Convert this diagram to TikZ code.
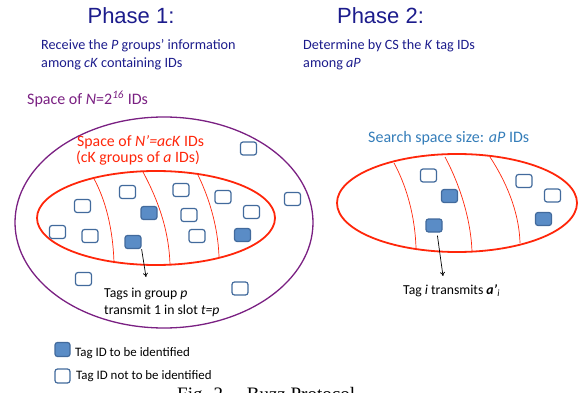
\documentclass[tikz,border=0pt]{standalone}
\usepackage{fontspec}
\setmainfont{Carlito}
\newfontfamily\phasefont{Liberation Sans}
\newfontfamily\capfont{Liberation Serif}
\usetikzlibrary{arrows.meta}
\definecolor{phaseblue}{RGB}{28,28,140}
\definecolor{idpurple}{RGB}{122,32,130}
\definecolor{idred}{RGB}{255,38,10}
\definecolor{searchblue}{RGB}{52,125,185}
\definecolor{tagfill}{RGB}{90,140,198}
\definecolor{tagline}{RGB}{66,106,156}
\newcommand{\fsz}[1]{\fontsize{#1}{#1}\selectfont}

\begin{document}
\begin{tikzpicture}[x=1pt, y=-1pt,
  tag/.style={draw=tagline, line width=1.2pt, rounded corners=2.5pt, minimum width=16pt, minimum height=13pt, inner sep=0pt},
  tagon/.style={tag, fill=tagfill},
  tagoff/.style={tag, fill=white},
  lbl/.style={anchor=base west, inner sep=0pt},
  divider/.style={idred, line width=.7pt},
  >={To[length=4pt,width=5pt]}]
\useasboundingbox (0,0) rectangle (584,393);
% headings
\node[anchor=base, inner sep=0pt, phaseblue] (ph1) at (131,23.5) {\phasefont\fsz{22}Phase 1:};
\node[anchor=base, inner sep=0pt, phaseblue] (ph2) at (380.5,23.5) {\phasefont\fsz{22}Phase 2:};
\node[lbl, phaseblue] (s1a) at (41,50) {\fsz{14.2}Receive the \textit{P} groups’ information};
\node[lbl, phaseblue] (s1b) at (41,68) {\fsz{14.2}among \textit{cK} containing IDs};
\node[lbl, phaseblue] (s2a) at (303,50) {\fsz{14.2}Determine by CS the \textit{K} tag IDs};
\node[lbl, phaseblue] (s2b) at (303,68) {\fsz{14.2}among \textit{aP}};
% phase 1
\draw[idpurple, line width=1.3pt] (164,222.5) ellipse (149 and 105.5);
\draw[idred, line width=1.8pt] (156,218) ellipse (119 and 47);
\draw[divider] (93,177) .. controls (106,200) and (113,230) .. (114,263);
\draw[divider] (143,172) .. controls (158,200) and (169,230) .. (170,265);
\draw[divider] (197,173) .. controls (208,195) and (218,225) .. (219,257);
\node[lbl, idpurple] (allid) at (27,105) {\fsz{16}Space of \textit{N}=2\textsuperscript{\textit{16}} IDs};
\node[lbl, idred] (cand1) at (77,146.5) {\fsz{15.8}Space of \textit{N’=acK} IDs};
\node[lbl, idred] (cand2) at (76,162.5) {\fsz{15.8}(cK groups of \textit{a} IDs)};
\node[tagoff] (o1) at (248.5,148.5) {};
\node[tagoff] (o2) at (292.5,199) {};
\node[tagoff] (o3) at (83.5,279) {};
\node[tagoff] (o4) at (240,288.5) {};
\node[tagoff] (a1) at (82.5,206) {};
\node[tagoff] (a2) at (127.5,192) {};
\node[tagoff] (a3) at (57.5,232) {};
\node[tagoff] (a4) at (90,236) {};
\node[tagoff] (a5) at (181,190) {};
\node[tagoff] (a6) at (223,197) {};
\node[tagoff] (a7) at (189,215) {};
\node[tagoff] (a8) at (251.5,212) {};
\node[tagoff] (a9) at (197,236) {};
\node[tagon] (b1) at (149,213) {};
\node[tagon] (b2) at (133,242) {};
\node[tagon] (b3) at (242.5,235) {};
\node[lbl] (grp1) at (104,297) {\fsz{13.7}Tags in group \textit{p}};
\node[lbl] (grp2) at (104,314) {\fsz{13.7}transmit 1 in slot \textit{t=p}};
\coordinate (grpin) at (146,277);
\draw[->, line width=.7pt] (b2.south east) -- (grpin);
% phase 2
\draw[idred, line width=1.8pt] (457,203) ellipse (120 and 49);
\draw[divider] (394,163) .. controls (406,185) and (415,215) .. (416,248);
\draw[divider] (445,157) .. controls (460,185) and (471,220) .. (472,252);
\draw[divider] (490,157) .. controls (505,180) and (519,210) .. (520,243);
\node[lbl, searchblue] (srch) at (368,142.5) {\fsz{16}Search space size: \textit{aP} IDs};
\node[tagoff] (c1) at (428.5,175.5) {};
\node[tagoff] (c2) at (524,181) {};
\node[tagoff] (c3) at (552.5,195.5) {};
\node[tagon] (d1) at (449.5,196) {};
\node[tagon] (d2) at (434,225.5) {};
\node[tagon] (d3) at (543.5,219) {};
\node[lbl] (tx) at (403,294) {\fsz{13.7}Tag \textit{i} transmits \textbf{\textit{a’}}\textsubscript{\textit{i}}};
\coordinate (txin) at (443,276);
\draw[->, line width=.7pt, shorten <=3pt] ([xshift=3pt]d2.south) -- (txin);
% legend
\node[tagon, minimum width=15pt, minimum height=14pt] (k1) at (62.5,349.5) {};
\node[tagoff, minimum width=15pt, minimum height=14pt] (k2) at (62.5,376) {};
\node[lbl] (k1t) at (75,356) {\fsz{12.9}Tag ID to be identified};
\node[lbl] (k2t) at (76,379.3) {\fsz{12.9}Tag ID not to be identified};
% caption, cut off at the bottom
\begin{scope}
\clip (0,0) rectangle (584,393);
\node[lbl] (cap) at (177,400) {\capfont\fsz{19}Fig. 2.\quad Buzz Protocol};
\end{scope}
\end{tikzpicture}
\end{document}
